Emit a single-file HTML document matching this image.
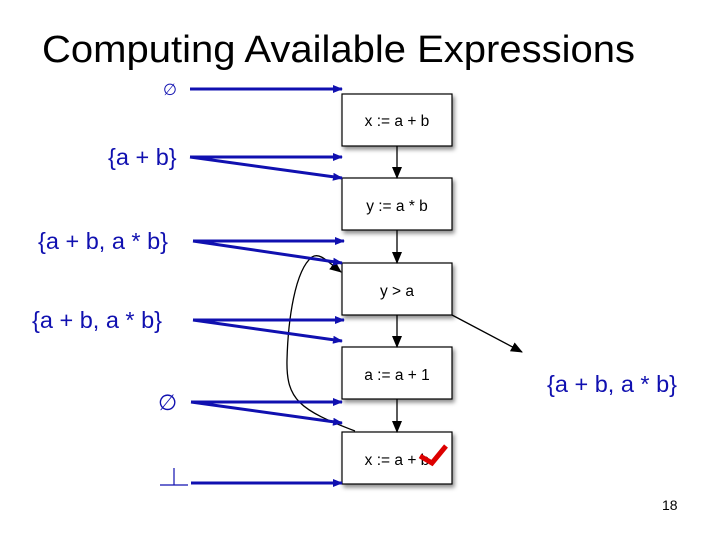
<!DOCTYPE html>
<html><head><style>
body{margin:0;background:#fff;}
svg{display:block;font-family:"Liberation Sans",sans-serif;}
</style></head><body>
<svg width="720" height="540" viewBox="0 0 720 540">
<defs>
<marker id="b" markerWidth="10" markerHeight="8" refX="9" refY="4" orient="auto" markerUnits="userSpaceOnUse"><path d="M0,0 L10,4 L0,8z" fill="#1010b0"/></marker>
<marker id="k" markerWidth="12" markerHeight="10" refX="11" refY="5" orient="auto" markerUnits="userSpaceOnUse"><path d="M0,0 L12,5 L0,10z" fill="#000"/></marker>
<filter id="s"><feDropShadow dx="2" dy="3" stdDeviation="2" flood-opacity="0.45"/></filter>
</defs>
<text x="42" y="62" font-size="38" fill="#000" textLength="593" lengthAdjust="spacingAndGlyphs">Computing Available Expressions</text>
<g fill="#fff" stroke="#000" stroke-width="1.2" filter="url(#s)">
<rect x="342" y="94" width="110" height="52"/>
<rect x="342" y="178" width="110" height="52"/>
<rect x="342" y="263" width="110" height="52"/>
<rect x="342" y="347" width="110" height="52"/>
<rect x="342" y="432" width="110" height="52"/>
</g>
<g font-size="15.5" text-anchor="middle" fill="#000">
<text x="397" y="126">x := a + b</text>
<text x="397" y="211">y := a * b</text>
<text x="397" y="296">y &gt; a</text>
<text x="397" y="380">a := a + 1</text>
<text x="397" y="465">x := a + b</text>
</g>
<g stroke="#000" stroke-width="1.3" marker-end="url(#k)">
<line x1="397" y1="146" x2="397" y2="178"/>
<line x1="397" y1="230" x2="397" y2="263"/>
<line x1="397" y1="315" x2="397" y2="347"/>
<line x1="397" y1="399" x2="397" y2="432"/>
<line x1="452" y1="315" x2="522" y2="352"/>
<path d="M355,431 C300,410 286,400 287,360 C288,320 295,270 312,257 C320,252 328,262 341,272" fill="none"/>
</g>
<g stroke="#1010b0" stroke-width="3" marker-end="url(#b)" fill="none">
<line x1="190" y1="89" x2="342" y2="89"/>
<line x1="190" y1="157" x2="342" y2="157"/>
<line x1="190" y1="157" x2="342" y2="178"/>
<line x1="193" y1="241" x2="344" y2="241"/>
<line x1="193" y1="241" x2="342" y2="263"/>
<line x1="193" y1="320" x2="344" y2="320"/>
<line x1="193" y1="320" x2="342" y2="341"/>
<line x1="191" y1="402" x2="342" y2="402"/>
<line x1="191" y1="402" x2="342" y2="423"/>
<line x1="191" y1="483" x2="342" y2="483"/>
</g>
<g fill="#1010b0" font-size="23.5">
<text x="163" y="95" font-size="16">∅</text>
<text x="108" y="165">{a + b}</text>
<text x="38" y="249">{a + b, a * b}</text>
<text x="32" y="328">{a + b, a * b}</text>
<text x="158" y="410" font-size="22">∅</text>
<text x="547" y="392">{a + b, a * b}</text>
</g>
<path d="M160,485 L188,485 M174,485 L174,468" stroke="#1010b0" stroke-width="1.2"/>
<path d="M420,456 L432,463 L446,446" stroke="#d00" stroke-width="5" fill="none"/>
<text x="662" y="510" font-size="14" fill="#000">18</text>
</svg>
</body></html>
